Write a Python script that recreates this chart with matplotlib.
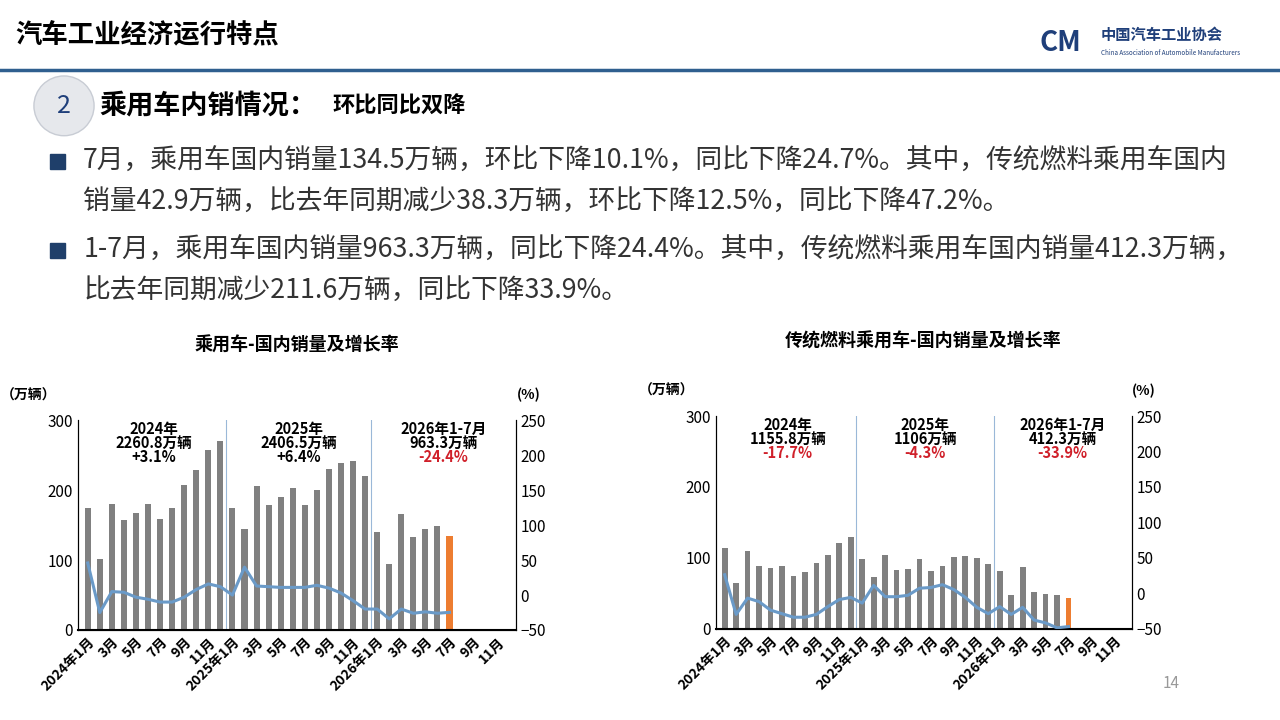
#!/usr/bin/env python3
# -*- coding: utf-8 -*-
"""
Diapositive :乘用车内销情况
"""

import numpy as np
import matplotlib.pyplot as plt
from matplotlib.patches import Ellipse, Rectangle

plt.rcParams['font.family'] = ['Noto Sans CJK SC', 'DejaVu Sans']

#Données:

mois = ['2024年1月','','3月','','5月','','7月','','9月','','11月','',
        '2025年1月','','3月','','5月','','7月','','9月','','11月','',
        '2026年1月','','3月','','5月','','7月','','9月','','11月','']

ventes_pv = [175,102,181,158,167,181,159,175,207,229,258,270,
             174,145,206,179,190,203,179,200,230,239,242,220,
             140,95,166,133,145,149,134.5]
taux_pv = [46,-25,5,4,-3,-6,-10,-10,-3,8,16,12,
           0,40,13,12,11,11,11,14,10,3,-8,-20,
           -20,-34,-20,-26,-24,-26,-24.7]

ventes_tf = [114,64,110,88,86,89,74,80,93,104,121,130,
             98,73,104,83,84,98,81,89,101,102,100,91,
             81,48,87,51,49,47,42.9]
taux_tf = [26,-30,-7,-12,-24,-29,-34,-34,-30,-19,-9,-6,
           -14,11,-5,-5,-3,7,8,12,5,-6,-20,-29,
           -19,-30,-20,-38,-42,-49,-47.2]

annot_pv = [('2024年','2260.8万辆','+3.1%'),('2025年','2406.5万辆','+6.4%'),('2026年1-7月','963.3万辆','-24.4%')]
annot_tf = [('2024年','1155.8万辆','-17.7%'),('2025年','1106万辆','-4.3%'),('2026年1-7月','412.3万辆','-33.9%')]
couleur_pct = [['k','k','#d0202a'],['#d0202a','#d0202a','#d0202a']]

fig = plt.figure(1, figsize = [12.8,7.2], dpi=100)
plt.clf()

#En-tête de la diapositive
fig.text(0.012,0.95,"汽车工业经济运行特点",fontsize=19,fontweight='bold',va='center')
fig.add_artist(plt.Line2D([0,1],[0.903,0.903],color='#2f5f8f',lw=2.5))
fig.text(0.86,0.952,"中国汽车工业协会",fontsize=11,fontweight='bold',color='#1f3f7a',va='center')
fig.text(0.86,0.927,"China Association of Automobile Manufacturers",fontsize=4.5,color='#1f3f7a',va='center')
fig.text(0.812,0.94,"CM",fontsize=20,fontweight='bold',color='#1f3f7a',va='center',style='italic')

fig.add_artist(Ellipse((0.05,0.853),0.047,0.083,transform=fig.transFigure,fc='#e6e8ec',ec='#c8ccd4'))
fig.text(0.05,0.853,"2",fontsize=18,color='#1f3f7a',ha='center',va='center')
fig.text(0.078,0.853,"乘用车内销情况：",fontsize=19.5,fontweight='bold',va='center')
fig.text(0.26,0.853,"环比同比双降",fontsize=16,fontweight='bold',va='center')

lignes = [(0.776,"7月，乘用车国内销量134.5万辆，环比下降10.1%，同比下降24.7%。其中，传统燃料乘用车国内",True),
          (0.719,"销量42.9万辆，比去年同期减少38.3万辆，环比下降12.5%，同比下降47.2%。",False),
          (0.652,"1-7月，乘用车国内销量963.3万辆，同比下降24.4%。其中，传统燃料乘用车国内销量412.3万辆，",True),
          (0.595,"比去年同期减少211.6万辆，同比下降33.9%。",False)]
for y, txt, puce in lignes:
    if puce:
        fig.add_artist(Rectangle((0.039,y-0.011),0.012,0.021,transform=fig.transFigure,color='#1f3f6a'))
    fig.text(0.065,y,txt,fontsize=19.3,color='#333333',va='center')

x = np.arange(36)
n = len(ventes_pv)

def trace(pos, ventes, taux, annot, coul, titre):
    ax = fig.add_axes(pos)
    ax2 = ax.twinx()
    ax.bar(x[:n-1],ventes[:n-1],width=0.5,color='#808080')
    ax.bar(x[n-1],ventes[n-1],width=0.5,color='#ed7d31')
    ax2.plot(x[:n],taux,color='#6a9ac8',lw=2.2)
    ax.set_xlim(-0.8,35.5)
    ax.set_ylim(0,300)
    ax2.set_ylim(-50,250)
    ax.set_yticks([0,100,200,300])
    ax2.set_yticks([-50,0,50,100,150,200,250])
    ax.set_xticks(x)
    ax.set_xticklabels(mois,rotation=45,ha='right',rotation_mode='anchor',fontsize=10,fontweight='bold')
    ax.tick_params(axis='x',length=0)
    ax.tick_params(axis='y',length=0,labelsize=11)
    ax2.tick_params(axis='y',length=0,labelsize=11)
    for a in (ax,ax2):
        a.spines['top'].set_visible(False)
    ax.spines['bottom'].set_linewidth(1.5)
    for xs in (11.5,23.5):
        ax.axvline(xs,color='#9ab8d8',lw=0.8)
    for i, (a1,a2,a3) in enumerate(annot):
        xc = [5.5,17.5,29.5][i]
        ax.text(xc,288,a1,ha='center',va='center',fontsize=10.5,fontweight='bold')
        ax.text(xc,268,a2,ha='center',va='center',fontsize=10.5,fontweight='bold')
        ax.text(xc,248,a3,ha='center',va='center',fontsize=10.5,fontweight='bold',color=coul[i])
    ax.text(-0.05,1.1,"（万辆）",transform=ax.transAxes,fontsize=10,fontweight='bold',ha='right')
    ax2.text(1.03,1.1,"(%)",transform=ax.transAxes,fontsize=10,fontweight='bold',ha='center')
    ax.set_title(titre,fontsize=13,fontweight='bold',pad=50)
    return ax

trace([0.061,0.125,0.342,0.291],ventes_pv,taux_pv,annot_pv,couleur_pct[0],"乘用车-国内销量及增长率")
trace([0.559,0.127,0.325,0.295],ventes_tf,taux_tf,annot_tf,couleur_pct[1],"传统燃料乘用车-国内销量及增长率")

fig.text(0.915,0.045,"14",fontsize=11,color='#999999',ha='center')

plt.savefig('out.png')
